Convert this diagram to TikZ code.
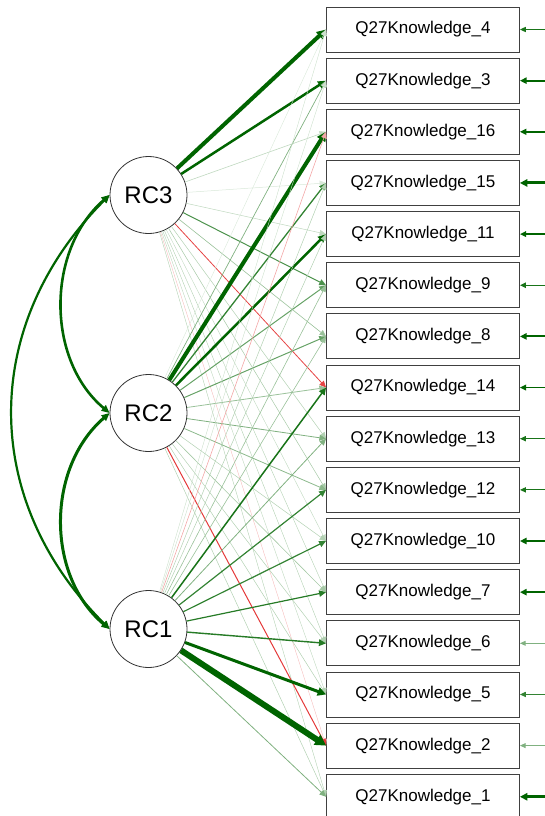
\documentclass[tikz,border=0pt]{standalone}
\usepackage{fontspec}
\setmainfont{Liberation Sans}
\usetikzlibrary{arrows.meta}
\definecolor{dg}{RGB}{0,100,0}
\definecolor{rd}{RGB}{225,35,35}
\begin{document}
\begin{tikzpicture}[x=1pt,y=-1pt,
  latent/.style={circle,draw=black!80,line width=0.8pt,fill=white,minimum size=77pt,inner sep=0pt,font=\fontsize{24}{28}\selectfont},
  manifest/.style={rectangle,draw=black!75,line width=0.9pt,fill=white,minimum width=193pt,minimum height=45pt,inner sep=0pt,font=\fontsize{17}{20}\selectfont},
  load/.style={-{Triangle[length=6pt 0.8,width=5pt 1.1]}},
  resid/.style={-{Triangle[length=5pt 0.8,width=4pt 1.1]}},
  covar/.style={{Triangle[length=8pt,width=7pt]}-{Triangle[length=8pt,width=7pt]},draw=dg},
]
\useasboundingbox (0,0) rectangle (545,816);

\node[latent] (RC3) at (148.5,195) {RC3};
\node[latent] (RC2) at (148.5,413) {RC2};
\node[latent] (RC1) at (148.5,629) {RC1};

\foreach \lab [count=\i] in {4,3,16,15,11,9,8,14,13,12,10,7,6,5,2,1}
  \node[manifest] (b\i) at (423,{29.5+51.15*(\i-1)}) {Q27Knowledge\_\lab};

% loadings RC3
\foreach \b/\w/\c in {1/4/100,2/2.5/100,3/0.6/25,4/0.5/15,5/0.5/25,6/1/70,7/0.6/40,9/0.5/30,10/0.5/35,11/0.4/25,12/0.4/30,13/0.4/30,14/0.4/25,16/0.4/30}
  \draw[load,line width=\w pt,draw=dg!\c!white] (RC3) -- (b\b.west);
\draw[load,line width=0.8pt,draw=rd!85!white] (RC3) -- (b8.west);
\draw[load,line width=0.4pt,draw=rd!30!white] (RC3) -- (b15.west);

% loadings RC2
\foreach \b/\w/\c in {1/0.4/15,2/0.7/50,3/4/100,4/1.3/80,5/2.5/100,6/1/60,7/1/60,8/0.8/40,9/0.8/50,10/0.8/45,11/0.5/30,12/0.6/35,13/0.5/30,14/0.5/30,16/0.5/30}
  \draw[load,line width=\w pt,draw=dg!\c!white] (RC2) -- (b\b.west);
\draw[load,line width=1pt,draw=rd!90!white] (RC2) -- (b15.west);

% loadings RC1
\foreach \b/\w/\c in {1/0.4/20,2/0.4/20,4/0.5/30,5/0.5/30,6/0.6/40,7/0.6/40,8/1.5/90,9/0.8/50,10/1.2/80,11/1.2/80,12/1.2/85,13/1.4/85,14/3/100,15/6/100,16/0.8/50}
  \draw[load,line width=\w pt,draw=dg!\c!white] (RC1) -- (b\b.west);
\draw[load,line width=0.6pt,draw=rd!40!white] (RC1) -- (b3.west);

% residuals
\foreach \i/\w/\c in {1/1/90,2/2/100,3/1.8/100,4/3/100,5/1.5/100,6/1.2/90,7/2/100,8/1.5/100,9/1/90,10/1/90,11/2/100,12/2/100,13/0.8/50,14/1/80,15/0.8/50,16/3/100}{
  \coordinate (r\i) at (545,{29.5+51.15*(\i-1)});
  \draw[resid,line width=\w pt,draw=dg!\c!white] (r\i) -- (b\i.east);
}

% covariances
\draw[covar,line width=2.2pt] (RC1.west) .. controls (-20,500) and (-20,325) .. (RC3.west);
\draw[covar,line width=2.6pt] (RC3.west) .. controls (46,250) and (46,360) .. (RC2.west);
\draw[covar,line width=3pt] (RC2.west) .. controls (46,468) and (46,576) .. (RC1.west);
\end{tikzpicture}
\end{document}
